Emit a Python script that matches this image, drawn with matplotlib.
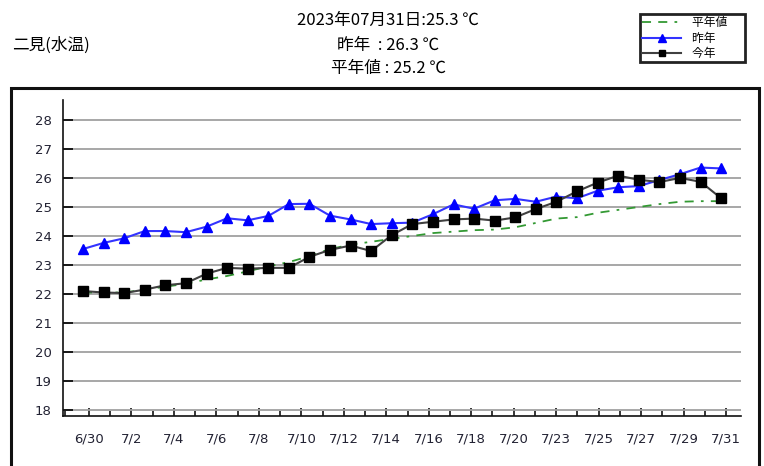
import numpy as np
import matplotlib.pyplot as plt
from matplotlib.patches import Rectangle

plt.rcParams['font.family'] = ['Noto Sans CJK JP', 'DejaVu Sans']

# daily values 6/30 .. 7/31
dates = ['6/30'] + [f'7/{d}' for d in range(1, 32)]
normal = [22.05, 22.05, 22.05, 22.15, 22.25, 22.35, 22.5, 22.62, 22.78, 22.95,
          23.1, 23.3, 23.55, 23.7, 23.8, 23.9, 24.0, 24.1, 24.15, 24.2,
          24.22, 24.3, 24.45, 24.6, 24.65, 24.8, 24.9, 25.0, 25.1, 25.18,
          25.2, 25.2]
last_year = [23.55, 23.76, 23.92, 24.17, 24.17, 24.13, 24.32, 24.61, 24.54, 24.69,
             25.1, 25.11, 24.7, 24.57, 24.41, 24.44, 24.46, 24.75, 25.09, 24.94,
             25.23, 25.28, 25.18, 25.36, 25.3, 25.56, 25.68, 25.72, 25.93, 26.13,
             26.36, 26.33]
this_year = [22.1, 22.05, 22.03, 22.15, 22.3, 22.37, 22.7, 22.9, 22.87, 22.9,
             22.9, 23.28, 23.52, 23.67, 23.48, 24.03, 24.41, 24.49, 24.57, 24.6,
             24.53, 24.64, 24.93, 25.18, 25.54, 25.84, 26.08, 25.94, 25.86, 26.0,
             25.87, 25.3]
tick_labels = ['6/30', '7/2', '7/4', '7/6', '7/8', '7/10', '7/12', '7/14',
               '7/16', '7/18', '7/20', '7/23', '7/25', '7/27', '7/29', '7/31']

x = np.arange(len(dates))

fig = plt.figure(figsize=(7.64, 4.66), dpi=100)
ax = fig.add_axes([0.0825, 0.1073, 0.8875, 0.6781])

# outer frame
fig.patches.append(Rectangle((11 / 764, -0.05), 748 / 764, 1 - 88 / 466 + 0.05,
                             transform=fig.transFigure, fill=False,
                             edgecolor='#111111', linewidth=2.2))

ax.plot(x, normal, color='#339933', linewidth=1.3,
        dashes=(5, 4, 5, 4, 1.5, 4), label='平年値', zorder=3)
ax.plot(x, last_year, color='#3333ff', linewidth=1.5, marker='^',
        markersize=7, markerfacecolor='#0000ff', markeredgecolor='#0000ff',
        label='昨年', zorder=4)
ax.plot(x, this_year, color='#404040', linewidth=1.5, marker='s',
        markersize=6.5, markerfacecolor='black', markeredgecolor='black',
        label='今年', zorder=5)

ax.set_ylim(17.79, 28.69)
ax.set_xlim(-0.97, 31.97)
ax.set_yticks(range(18, 29))
ax.grid(axis='y', color='#a0a0a0', linewidth=1.3)
ax.set_axisbelow(True)

# category ticks of the original tool do not line up with the points
ticks = np.linspace(0.29, 31.24, 31)
ax.set_xticks(ticks[::2])
ax.set_xticklabels(tick_labels)
ax.set_xticks(list(ticks[1::2]) + [-0.876], minor=True)

ax.tick_params(axis='y', direction='in', length=7, width=1.2, pad=8,
               labelsize=9.5, labelcolor='#222233')
ax.tick_params(axis='x', which='major', direction='in', length=6, width=1.1,
               pad=12, labelsize=9.5, labelcolor='#222233')
ax.tick_params(axis='x', which='minor', direction='in', length=3.5, width=1.1)
for lbl in ax.get_xticklabels() + ax.get_yticklabels():
    lbl.set_fontfamily('DejaVu Sans')

for s in ['top', 'right']:
    ax.spines[s].set_visible(False)
for s in ['left', 'bottom']:
    ax.spines[s].set_linewidth(1.2)
    ax.spines[s].set_color('#111111')

fig.text(0.508, 0.957, '2023年07月31日:25.3 ℃', ha='center', va='center', fontsize=12)
fig.text(0.508, 0.903, '昨年  : 26.3 ℃', ha='center', va='center', fontsize=12)
fig.text(0.508, 0.853, '平年値 : 25.2 ℃', ha='center', va='center', fontsize=12)
fig.text(0.016, 0.903, '二見(水温)', ha='left', va='center', fontsize=12)

leg = ax.legend(loc='upper left', bbox_to_anchor=(640 / 764, 1 - 14 / 466),
                bbox_transform=fig.transFigure, fontsize=8.5, frameon=True,
                fancybox=False, edgecolor='#222222', framealpha=1,
                borderpad=0.2, labelspacing=0.2, handlelength=3.3,
                handletextpad=0.9, borderaxespad=0, markerscale=0.75)
leg.get_frame().set_linewidth(2)
for t in leg.get_texts():
    t.set_text(t.get_text() + '      ')

fig.savefig('out.png', dpi=100)
